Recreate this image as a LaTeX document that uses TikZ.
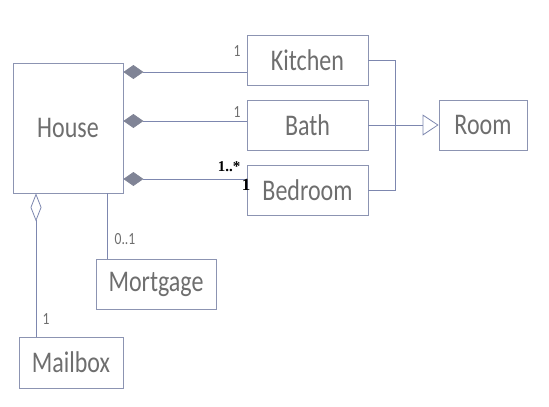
\documentclass[tikz,border=0pt]{standalone}
\usepackage{fontspec}
\usetikzlibrary{arrows.meta}
\newfontfamily\boxfont[FakeStretch=0.8]{Carlito}
\newfontfamily\serifl{Liberation Serif}
\definecolor{linec}{RGB}{125,135,175}
\definecolor{boxc}{RGB}{140,148,178}
\definecolor{txtc}{RGB}{110,110,110}
\definecolor{diac}{RGB}{128,132,150}
\begin{document}
\begin{tikzpicture}[x=1pt,y=-1pt,
  cls/.style={draw=boxc,line width=0.8pt,rectangle,inner sep=0pt,text=txtc,font=\boxfont\fontsize{30}{32}\selectfont},
  conn/.style={draw=linec,line width=0.8pt},
  comp/.style={conn,{Diamond[length=20pt,width=14pt,fill=diac,color=diac]}-},
  aggr/.style={conn,{Diamond[open,length=28pt,width=11pt]}-},
  gen/.style={conn,-{Triangle[open,length=16pt,width=21pt]}},
  mult/.style={inner sep=0pt,text=txtc,font=\boxfont\fontsize{17}{19}\selectfont},
  multb/.style={inner sep=0pt,text=black,font=\serifl\bfseries\fontsize{15}{17}\selectfont}]
\useasboundingbox (0,0) rectangle (549,407);
\node[cls,minimum width=110pt,minimum height=130pt] (house) at (68,128) {House};
\node[cls,minimum width=121pt,minimum height=50pt] (kitchen) at (307.5,60) {Kitchen};
\node[cls,minimum width=121pt,minimum height=50pt] (bath) at (307.5,125) {Bath};
\node[cls,minimum width=121pt,minimum height=50pt] (bedroom) at (307.5,190) {Bedroom};
\node[cls,minimum width=88pt,minimum height=50pt] (room) at (483,125) {Room};
\node[cls,minimum width=120pt,minimum height=50pt] (mortgage) at (156,284) {Mortgage};
\node[cls,minimum width=104pt,minimum height=51pt] (mailbox) at (71,362.5) {Mailbox};
\coordinate (bus) at (395,125);
% compositions
\draw[comp] (house.east |- 0,72) -- (kitchen.west |- 0,72);
\draw[comp] (house.east |- 0,121) -- (bath.west |- 0,121);
\draw[comp] (house.east |- 0,179) -- (bedroom.west |- 0,179);
% generalization
\draw[conn] (kitchen.east) -| (bus);
\draw[conn] (bedroom.east) -| (bus);
\draw[gen] (bath.east) -- (room.west);
% aggregation / association
\draw[aggr] (house.south -| 36,0) -- (mailbox.north -| 36,0);
\draw[conn] (house.south -| 107,0) -- (mortgage.north -| 107,0);
% multiplicities
\node[mult] (m1) at (237,51) {1};
\node[mult] (m2) at (237,112) {1};
\node[multb] (m3) at (229,167) {1..*};
\node[multb,font=\serifl\bfseries\fontsize{17}{19}\selectfont] (m4) at (246,185) {1};
\node[mult] (m5) at (125,239) {0..1};
\node[mult] (m6) at (46,319) {1};
\end{tikzpicture}
\end{document}
